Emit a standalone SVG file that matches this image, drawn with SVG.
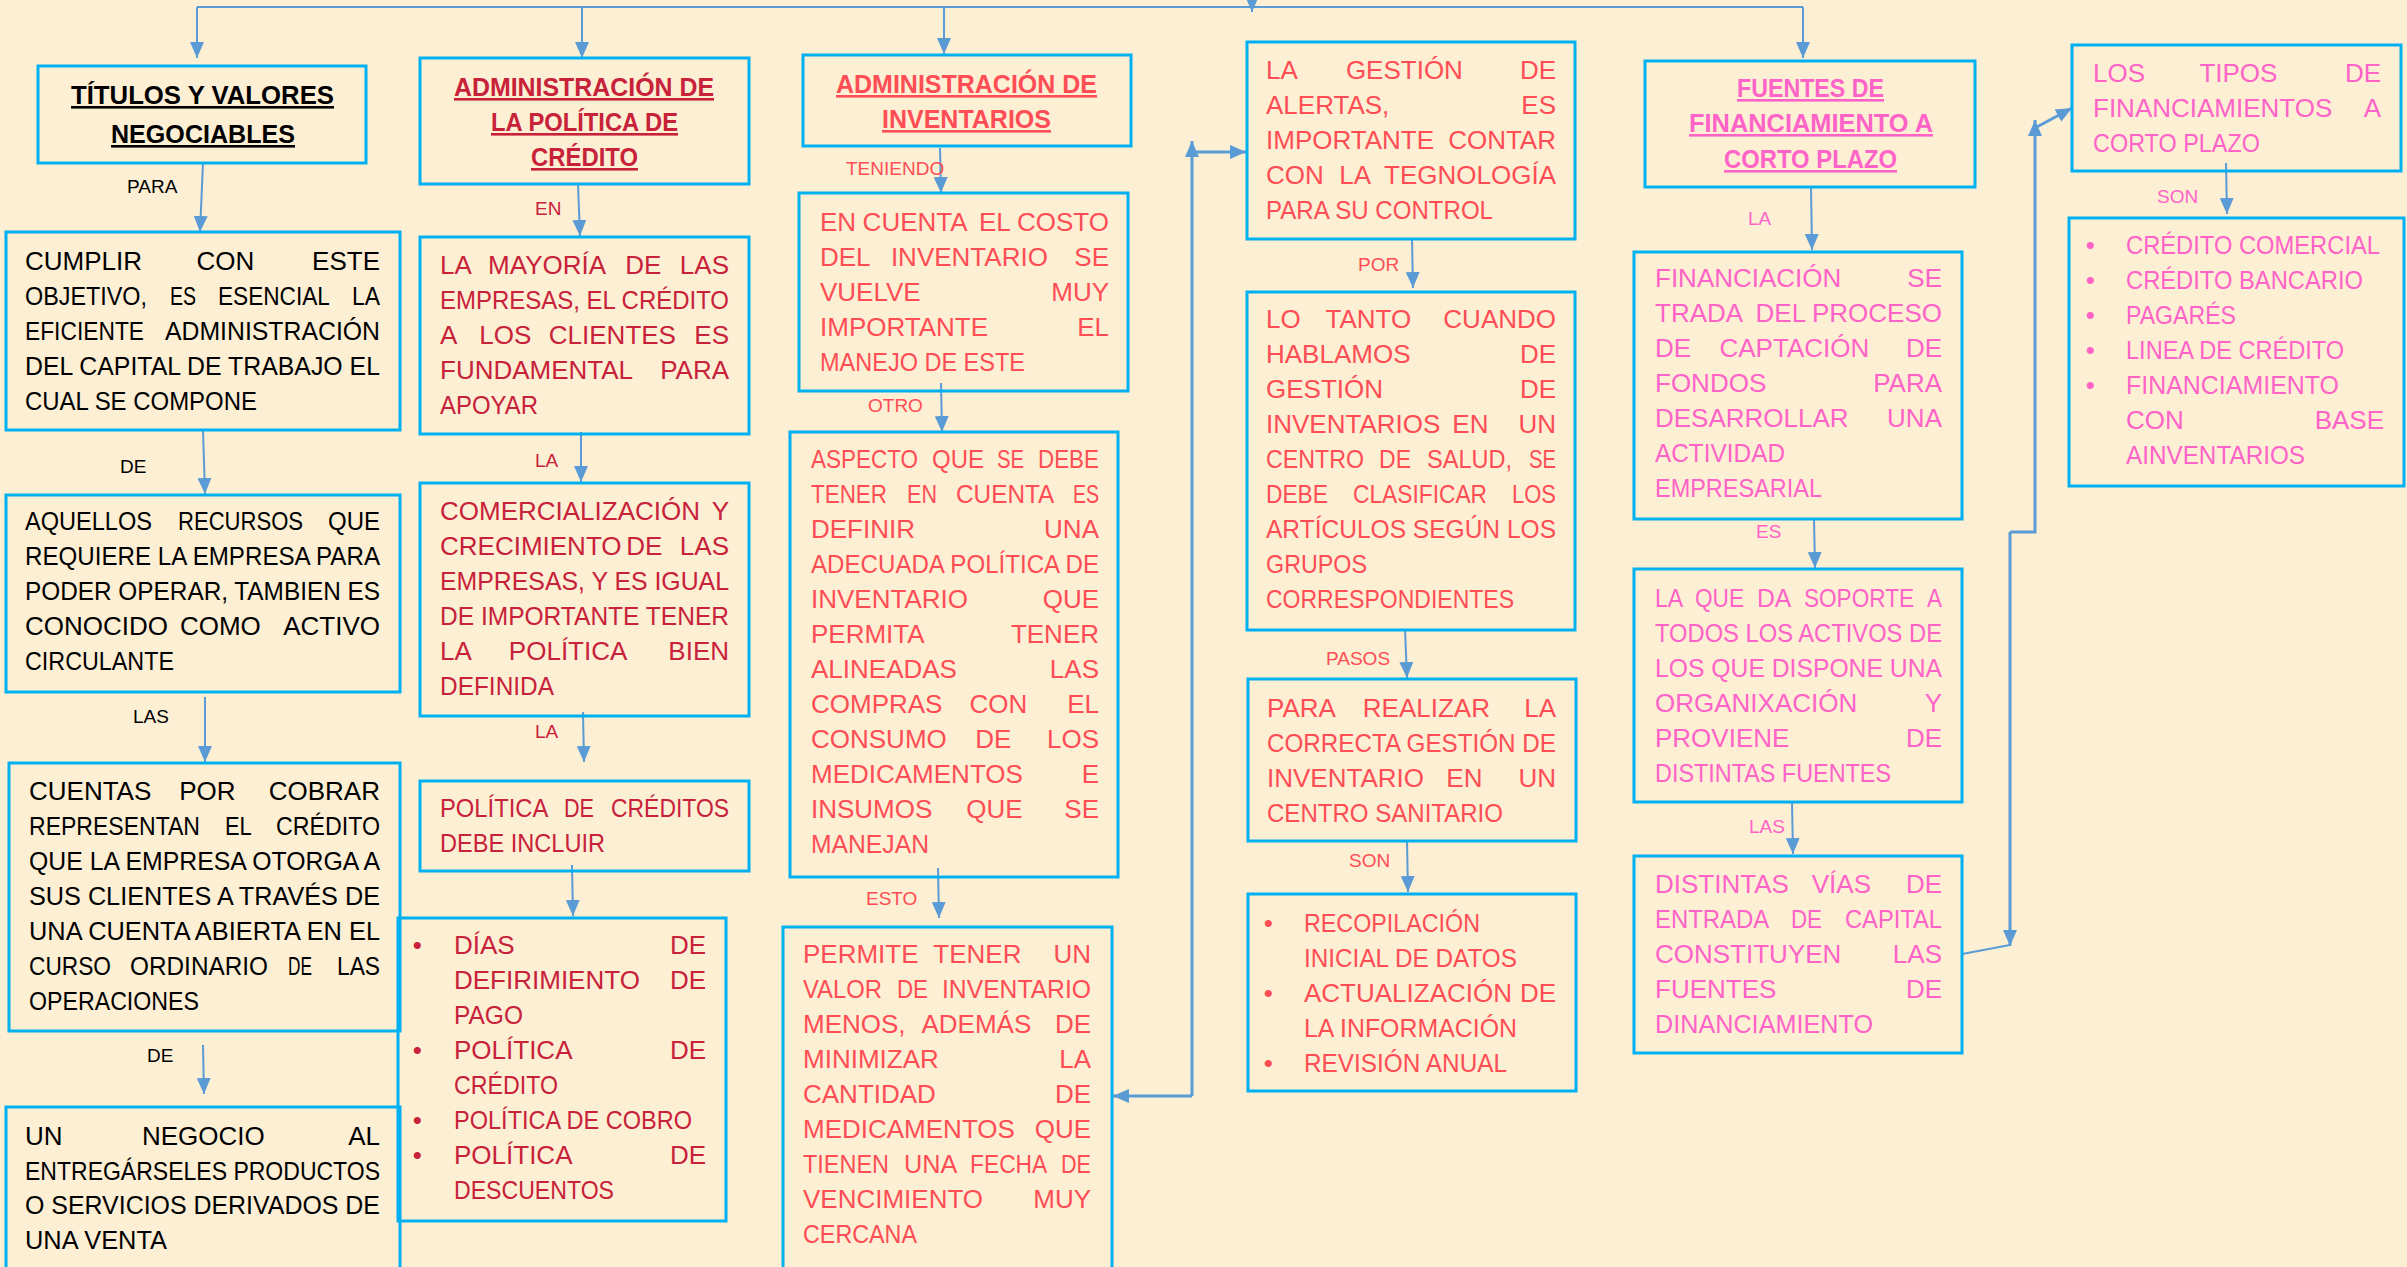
<svg xmlns="http://www.w3.org/2000/svg" width="2407" height="1267" viewBox="0 0 2407 1267">
<style>
.bg{fill:#FCEFD4}
.box{fill:none;stroke:#00B0F0;stroke-width:3}
.c{fill:none;stroke:#5B9BD5;stroke-width:2}
.c3{fill:none;stroke:#5B9BD5;stroke-width:3}
.t{font-family:'Liberation Sans',Arial,sans-serif;font-size:26px}
.lbl{font-family:'Liberation Sans',Arial,sans-serif;font-size:19px}
.ttl{font-weight:bold;text-decoration:underline}
.k{fill:#000000}
.r{fill:#C8213A}
.o{fill:#FF4D55}
.p{fill:#FF63C8}
.m{text-anchor:middle}
.e{text-anchor:end}
</style>
<defs>
<marker id="ah" markerUnits="userSpaceOnUse" markerWidth="16" markerHeight="14" refX="16" refY="7" orient="auto">
<path d="M0,0 L16,7 L0,14 z" fill="#5B9BD5"/>
</marker>
</defs>
<rect class="bg" x="0" y="0" width="2407" height="1267"/>

<g id="connectors">
<path class="c" d="M197,7 H1803"/>
<path class="c" d="M1252,-4 V12" marker-end="url(#ah)"/>
<path class="c" d="M197,7 V58" marker-end="url(#ah)"/>
<path class="c" d="M582,7 V58" marker-end="url(#ah)"/>
<path class="c" d="M944,7 V54" marker-end="url(#ah)"/>
<path class="c" d="M1803,7 V58" marker-end="url(#ah)"/>
<path class="c" d="M203,163 L200,232" marker-end="url(#ah)"/>
<path class="c" d="M203,430 L205,494" marker-end="url(#ah)"/>
<path class="c" d="M205,697 L205,762" marker-end="url(#ah)"/>
<path class="c" d="M203,1045 L204,1094" marker-end="url(#ah)"/>
<path class="c" d="M578,184 L580,236" marker-end="url(#ah)"/>
<path class="c" d="M581,432 L581,482" marker-end="url(#ah)"/>
<path class="c" d="M583,712 L584,762" marker-end="url(#ah)"/>
<path class="c" d="M572,865 L573,916" marker-end="url(#ah)"/>
<path class="c" d="M940,148 L941,193" marker-end="url(#ah)"/>
<path class="c" d="M941,383 L942,432" marker-end="url(#ah)"/>
<path class="c" d="M938,868 L939,918" marker-end="url(#ah)"/>
<path class="c" d="M1412,239 L1413,288" marker-end="url(#ah)"/>
<path class="c" d="M1405,629 L1407,678" marker-end="url(#ah)"/>
<path class="c" d="M1407,841 L1408,892" marker-end="url(#ah)"/>
<path class="c" d="M1811,187 L1812,250" marker-end="url(#ah)"/>
<path class="c" d="M1814,518 L1815,568" marker-end="url(#ah)"/>
<path class="c" d="M1792,802 L1793,854" marker-end="url(#ah)"/>
<path class="c" d="M2226,163 L2227,214" marker-end="url(#ah)"/>
<path class="c3" d="M1192,1096 V141" marker-end="url(#ah)"/>
<path class="c3" d="M1192,152 H1246" marker-end="url(#ah)"/>
<path class="c3" d="M1192,1096 H1113" marker-end="url(#ah)"/>
<path class="c3" d="M2010,532 H2035 V120" marker-end="url(#ah)"/>
<path class="c3" d="M2035,128 L2072,108" marker-end="url(#ah)"/>
<path class="c3" d="M2010,532 V946" marker-end="url(#ah)"/>
<path class="c" d="M1962,954 L2010,945"/>
</g>

<g id="labels">
<text class="lbl k" x="127" y="193">PARA</text>
<text class="lbl k" x="120" y="473">DE</text>
<text class="lbl k" x="133" y="723">LAS</text>
<text class="lbl k" x="147" y="1062">DE</text>
<text class="lbl r" x="535" y="215">EN</text>
<text class="lbl r" x="535" y="467">LA</text>
<text class="lbl r" x="535" y="738">LA</text>
<text class="lbl o" x="846" y="175">TENIENDO</text>
<text class="lbl o" x="868" y="412">OTRO</text>
<text class="lbl o" x="866" y="905">ESTO</text>
<text class="lbl o" x="1358" y="271">POR</text>
<text class="lbl o" x="1326" y="665">PASOS</text>
<text class="lbl o" x="1349" y="867">SON</text>
<text class="lbl p" x="1748" y="225">LA</text>
<text class="lbl p" x="1756" y="538">ES</text>
<text class="lbl p" x="1749" y="833">LAS</text>
<text class="lbl p" x="2157" y="203">SON</text>
</g>

<g id="n-titulos">
<rect class="box" x="38" y="66" width="328" height="97"/>
<text class="t ttl k" x="71" y="104" textLength="263" lengthAdjust="spacingAndGlyphs">TÍTULOS Y VALORES</text>
<text class="t ttl k" x="111" y="143" textLength="184" lengthAdjust="spacingAndGlyphs">NEGOCIABLES</text>
</g>

<g id="n-cumplir">
<rect class="box" x="6" y="232" width="394" height="198"/>
<text class="t k" y="270"><tspan x="25">CUMPLIR</tspan> <tspan x="229" class="m">CON</tspan> <tspan x="380" class="e">ESTE</tspan></text>
<text class="t k" y="305"><tspan x="25" textLength="122" lengthAdjust="spacingAndGlyphs">OBJETIVO,</tspan> <tspan x="170" textLength="26" lengthAdjust="spacingAndGlyphs">ES</tspan> <tspan x="218" textLength="111" lengthAdjust="spacingAndGlyphs">ESENCIAL</tspan> <tspan x="352" textLength="28" lengthAdjust="spacingAndGlyphs">LA</tspan></text>
<text class="t k" y="340"><tspan x="25" textLength="119" lengthAdjust="spacingAndGlyphs">EFICIENTE</tspan> <tspan x="165" textLength="215" lengthAdjust="spacingAndGlyphs">ADMINISTRACIÓN</tspan></text>
<text class="t k" x="25" y="375" textLength="355" lengthAdjust="spacingAndGlyphs">DEL CAPITAL DE TRABAJO EL</text>
<text class="t k" x="25" y="410" textLength="232" lengthAdjust="spacingAndGlyphs">CUAL SE COMPONE</text>
</g>

<g id="n-aquellos">
<rect class="box" x="6" y="495" width="394" height="197"/>
<text class="t k" y="530"><tspan x="25" textLength="127" lengthAdjust="spacingAndGlyphs">AQUELLOS</tspan> <tspan x="178" textLength="125" lengthAdjust="spacingAndGlyphs">RECURSOS</tspan> <tspan x="328" textLength="52" lengthAdjust="spacingAndGlyphs">QUE</tspan></text>
<text class="t k" x="25" y="565" textLength="355" lengthAdjust="spacingAndGlyphs">REQUIERE LA EMPRESA PARA</text>
<text class="t k" x="25" y="600" textLength="355" lengthAdjust="spacingAndGlyphs">PODER OPERAR, TAMBIEN ES</text>
<text class="t k" y="635"><tspan x="25">CONOCIDO</tspan> <tspan x="224" class="m">COMO</tspan> <tspan x="380" class="e">ACTIVO</tspan></text>
<text class="t k" x="25" y="670" textLength="149" lengthAdjust="spacingAndGlyphs">CIRCULANTE</text>
</g>

<g id="n-cuentas">
<rect class="box" x="9" y="763" width="391" height="268"/>
<text class="t k" y="800"><tspan x="29">CUENTAS</tspan> <tspan x="211" class="m">POR</tspan> <tspan x="380" class="e">COBRAR</tspan></text>
<text class="t k" y="835"><tspan x="29" textLength="171" lengthAdjust="spacingAndGlyphs">REPRESENTAN</tspan> <tspan x="225" textLength="26" lengthAdjust="spacingAndGlyphs">EL</tspan> <tspan x="276" textLength="104" lengthAdjust="spacingAndGlyphs">CRÉDITO</tspan></text>
<text class="t k" x="29" y="870" textLength="351" lengthAdjust="spacingAndGlyphs">QUE LA EMPRESA OTORGA A</text>
<text class="t k" x="29" y="905" textLength="351" lengthAdjust="spacingAndGlyphs">SUS CLIENTES A TRAVÉS DE</text>
<text class="t k" x="29" y="940" textLength="351" lengthAdjust="spacingAndGlyphs">UNA CUENTA ABIERTA EN EL</text>
<text class="t k" y="975"><tspan x="29" textLength="82" lengthAdjust="spacingAndGlyphs">CURSO</tspan> <tspan x="130" textLength="138" lengthAdjust="spacingAndGlyphs">ORDINARIO</tspan> <tspan x="288" textLength="24" lengthAdjust="spacingAndGlyphs">DE</tspan> <tspan x="337" textLength="43" lengthAdjust="spacingAndGlyphs">LAS</tspan></text>
<text class="t k" x="29" y="1010" textLength="170" lengthAdjust="spacingAndGlyphs">OPERACIONES</text>
</g>

<g id="n-negocio">
<rect class="box" x="6" y="1107" width="394" height="180"/>
<text class="t k" y="1145"><tspan x="25">UN</tspan> <tspan x="207" class="m">NEGOCIO</tspan> <tspan x="380" class="e">AL</tspan></text>
<text class="t k" x="25" y="1180" textLength="355" lengthAdjust="spacingAndGlyphs">ENTREGÁRSELES PRODUCTOS</text>
<text class="t k" x="25" y="1214" textLength="355" lengthAdjust="spacingAndGlyphs">O SERVICIOS DERIVADOS DE</text>
<text class="t k" x="25" y="1249" textLength="142" lengthAdjust="spacingAndGlyphs">UNA VENTA</text>
</g>

<g id="n-admin-credito">
<rect class="box" x="420" y="58" width="329" height="126"/>
<text class="t ttl r" x="454" y="96" textLength="260" lengthAdjust="spacingAndGlyphs">ADMINISTRACIÓN DE</text>
<text class="t ttl r" x="491" y="131" textLength="187" lengthAdjust="spacingAndGlyphs">LA POLÍTICA DE</text>
<text class="t ttl r" x="531" y="166" textLength="107" lengthAdjust="spacingAndGlyphs">CRÉDITO</text>
</g>

<g id="n-mayoria">
<rect class="box" x="420" y="237" width="329" height="197"/>
<text class="t r" y="274"><tspan x="440">LA</tspan> <tspan x="550" class="m">MAYORÍA</tspan> <tspan x="647" class="m">DE</tspan> <tspan x="729" class="e">LAS</tspan></text>
<text class="t r" x="440" y="309" textLength="289" lengthAdjust="spacingAndGlyphs">EMPRESAS, EL CRÉDITO</text>
<text class="t r" y="344"><tspan x="440">A</tspan> <tspan x="509" class="m">LOS</tspan> <tspan x="616" class="m">CLIENTES</tspan> <tspan x="729" class="e">ES</tspan></text>
<text class="t r" y="379"><tspan x="440">FUNDAMENTAL</tspan> <tspan x="729" class="e">PARA</tspan></text>
<text class="t r" x="440" y="414" textLength="98" lengthAdjust="spacingAndGlyphs">APOYAR</text>
</g>

<g id="n-comercializacion">
<rect class="box" x="420" y="483" width="329" height="233"/>
<text class="t r" y="520"><tspan x="440">COMERCIALIZACIÓN</tspan> <tspan x="729" class="e">Y</tspan></text>
<text class="t r" y="555"><tspan x="440">CRECIMIENTO</tspan> <tspan x="648" class="m">DE</tspan> <tspan x="729" class="e">LAS</tspan></text>
<text class="t r" x="440" y="590" textLength="289" lengthAdjust="spacingAndGlyphs">EMPRESAS, Y ES IGUAL</text>
<text class="t r" x="440" y="625" textLength="289" lengthAdjust="spacingAndGlyphs">DE IMPORTANTE TENER</text>
<text class="t r" y="660"><tspan x="440">LA</tspan> <tspan x="571" class="m">POLÍTICA</tspan> <tspan x="729" class="e">BIEN</tspan></text>
<text class="t r" x="440" y="695" textLength="114" lengthAdjust="spacingAndGlyphs">DEFINIDA</text>
</g>

<g id="n-politica">
<rect class="box" x="420" y="781" width="329" height="90"/>
<text class="t r" y="817"><tspan x="440" textLength="107" lengthAdjust="spacingAndGlyphs">POLÍTICA</tspan> <tspan x="564" textLength="30" lengthAdjust="spacingAndGlyphs">DE</tspan> <tspan x="611" textLength="118" lengthAdjust="spacingAndGlyphs">CRÉDITOS</tspan></text>
<text class="t r" x="440" y="852" textLength="165" lengthAdjust="spacingAndGlyphs">DEBE INCLUIR</text>
</g>

<g id="n-incluir">
<rect class="box" x="398" y="918" width="328" height="303"/>
<text class="t r" y="954"><tspan x="421" class="m">•</tspan> <tspan x="454">DÍAS</tspan> <tspan x="706" class="e">DE</tspan></text>
<text class="t r" y="989"><tspan x="454">DEFIRIMIENTO</tspan> <tspan x="706" class="e">DE</tspan></text>
<text class="t r" x="454" y="1024" textLength="69" lengthAdjust="spacingAndGlyphs">PAGO</text>
<text class="t r" y="1059"><tspan x="421" class="m">•</tspan> <tspan x="454">POLÍTICA</tspan> <tspan x="706" class="e">DE</tspan></text>
<text class="t r" x="454" y="1094" textLength="104" lengthAdjust="spacingAndGlyphs">CRÉDITO</text>
<text class="t r" y="1129"><tspan x="421" class="m">•</tspan> <tspan x="454" textLength="238" lengthAdjust="spacingAndGlyphs">POLÍTICA DE COBRO</tspan></text>
<text class="t r" y="1164"><tspan x="421" class="m">•</tspan> <tspan x="454">POLÍTICA</tspan> <tspan x="706" class="e">DE</tspan></text>
<text class="t r" x="454" y="1199" textLength="160" lengthAdjust="spacingAndGlyphs">DESCUENTOS</text>
</g>

<g id="n-admin-inventarios">
<rect class="box" x="803" y="55" width="328" height="91"/>
<text class="t ttl o" x="836" y="93" textLength="261" lengthAdjust="spacingAndGlyphs">ADMINISTRACIÓN DE</text>
<text class="t ttl o" x="882" y="128" textLength="169" lengthAdjust="spacingAndGlyphs">INVENTARIOS</text>
</g>

<g id="n-costo">
<rect class="box" x="799" y="193" width="329" height="198"/>
<text class="t o" y="231"><tspan x="820">EN</tspan> <tspan x="918" class="m">CUENTA</tspan> <tspan x="998" class="m">EL</tspan> <tspan x="1109" class="e">COSTO</tspan></text>
<text class="t o" y="266"><tspan x="820">DEL</tspan> <tspan x="973" class="m">INVENTARIO</tspan> <tspan x="1109" class="e">SE</tspan></text>
<text class="t o" y="301"><tspan x="820">VUELVE</tspan> <tspan x="1109" class="e">MUY</tspan></text>
<text class="t o" y="336"><tspan x="820">IMPORTANTE</tspan> <tspan x="1109" class="e">EL</tspan></text>
<text class="t o" x="820" y="371" textLength="205" lengthAdjust="spacingAndGlyphs">MANEJO DE ESTE</text>
</g>

<g id="n-aspecto">
<rect class="box" x="790" y="432" width="328" height="445"/>
<text class="t o" y="468"><tspan x="811" textLength="107" lengthAdjust="spacingAndGlyphs">ASPECTO</tspan> <tspan x="932" textLength="52" lengthAdjust="spacingAndGlyphs">QUE</tspan> <tspan x="997" textLength="27" lengthAdjust="spacingAndGlyphs">SE</tspan> <tspan x="1038" textLength="61" lengthAdjust="spacingAndGlyphs">DEBE</tspan></text>
<text class="t o" y="503"><tspan x="811" textLength="76" lengthAdjust="spacingAndGlyphs">TENER</tspan> <tspan x="907" textLength="30" lengthAdjust="spacingAndGlyphs">EN</tspan> <tspan x="956" textLength="97" lengthAdjust="spacingAndGlyphs">CUENTA</tspan> <tspan x="1073" textLength="26" lengthAdjust="spacingAndGlyphs">ES</tspan></text>
<text class="t o" y="538"><tspan x="811">DEFINIR</tspan> <tspan x="1099" class="e">UNA</tspan></text>
<text class="t o" x="811" y="573" textLength="288" lengthAdjust="spacingAndGlyphs">ADECUADA POLÍTICA DE</text>
<text class="t o" y="608"><tspan x="811">INVENTARIO</tspan> <tspan x="1099" class="e">QUE</tspan></text>
<text class="t o" y="643"><tspan x="811">PERMITA</tspan> <tspan x="1099" class="e">TENER</tspan></text>
<text class="t o" y="678"><tspan x="811">ALINEADAS</tspan> <tspan x="1099" class="e">LAS</tspan></text>
<text class="t o" y="713"><tspan x="811">COMPRAS</tspan> <tspan x="1002" class="m">CON</tspan> <tspan x="1099" class="e">EL</tspan></text>
<text class="t o" y="748"><tspan x="811">CONSUMO</tspan> <tspan x="997" class="m">DE</tspan> <tspan x="1099" class="e">LOS</tspan></text>
<text class="t o" y="783"><tspan x="811">MEDICAMENTOS</tspan> <tspan x="1099" class="e">E</tspan></text>
<text class="t o" y="818"><tspan x="811">INSUMOS</tspan> <tspan x="998" class="m">QUE</tspan> <tspan x="1099" class="e">SE</tspan></text>
<text class="t o" x="811" y="853" textLength="118" lengthAdjust="spacingAndGlyphs">MANEJAN</text>
</g>

<g id="n-permite">
<rect class="box" x="783" y="927" width="329" height="345"/>
<text class="t o" y="963"><tspan x="803">PERMITE</tspan> <tspan x="981" class="m">TENER</tspan> <tspan x="1091" class="e">UN</tspan></text>
<text class="t o" y="998"><tspan x="803" textLength="79" lengthAdjust="spacingAndGlyphs">VALOR</tspan> <tspan x="897" textLength="31" lengthAdjust="spacingAndGlyphs">DE</tspan> <tspan x="942" textLength="149" lengthAdjust="spacingAndGlyphs">INVENTARIO</tspan></text>
<text class="t o" y="1033"><tspan x="803">MENOS,</tspan> <tspan x="980" class="m">ADEMÁS</tspan> <tspan x="1091" class="e">DE</tspan></text>
<text class="t o" y="1068"><tspan x="803">MINIMIZAR</tspan> <tspan x="1091" class="e">LA</tspan></text>
<text class="t o" y="1103"><tspan x="803">CANTIDAD</tspan> <tspan x="1091" class="e">DE</tspan></text>
<text class="t o" y="1138"><tspan x="803">MEDICAMENTOS</tspan> <tspan x="1091" class="e">QUE</tspan></text>
<text class="t o" y="1173"><tspan x="803" textLength="86" lengthAdjust="spacingAndGlyphs">TIENEN</tspan> <tspan x="904" textLength="52" lengthAdjust="spacingAndGlyphs">UNA</tspan> <tspan x="970" textLength="76" lengthAdjust="spacingAndGlyphs">FECHA</tspan> <tspan x="1061" textLength="30" lengthAdjust="spacingAndGlyphs">DE</tspan></text>
<text class="t o" y="1208"><tspan x="803">VENCIMIENTO</tspan> <tspan x="1091" class="e">MUY</tspan></text>
<text class="t o" x="803" y="1243" textLength="114" lengthAdjust="spacingAndGlyphs">CERCANA</text>
</g>

<g id="n-alertas">
<rect class="box" x="1247" y="42" width="328" height="197"/>
<text class="t o" y="79"><tspan x="1266">LA</tspan> <tspan x="1408" class="m">GESTIÓN</tspan> <tspan x="1556" class="e">DE</tspan></text>
<text class="t o" y="114"><tspan x="1266">ALERTAS,</tspan> <tspan x="1556" class="e">ES</tspan></text>
<text class="t o" y="149"><tspan x="1266">IMPORTANTE</tspan> <tspan x="1556" class="e">CONTAR</tspan></text>
<text class="t o" y="184"><tspan x="1266">CON</tspan> <tspan x="1358" class="m">LA</tspan> <tspan x="1556" class="e">TEGNOLOGÍA</tspan></text>
<text class="t o" x="1266" y="219" textLength="227" lengthAdjust="spacingAndGlyphs">PARA SU CONTROL</text>
</g>

<g id="n-tanto">
<rect class="box" x="1247" y="292" width="328" height="338"/>
<text class="t o" y="328"><tspan x="1266">LO</tspan> <tspan x="1372" class="m">TANTO</tspan> <tspan x="1556" class="e">CUANDO</tspan></text>
<text class="t o" y="363"><tspan x="1266">HABLAMOS</tspan> <tspan x="1556" class="e">DE</tspan></text>
<text class="t o" y="398"><tspan x="1266">GESTIÓN</tspan> <tspan x="1556" class="e">DE</tspan></text>
<text class="t o" y="433"><tspan x="1266">INVENTARIOS</tspan> <tspan x="1474" class="m">EN</tspan> <tspan x="1556" class="e">UN</tspan></text>
<text class="t o" y="468"><tspan x="1266" textLength="98" lengthAdjust="spacingAndGlyphs">CENTRO</tspan> <tspan x="1379" textLength="32" lengthAdjust="spacingAndGlyphs">DE</tspan> <tspan x="1427" textLength="85" lengthAdjust="spacingAndGlyphs">SALUD,</tspan> <tspan x="1529" textLength="27" lengthAdjust="spacingAndGlyphs">SE</tspan></text>
<text class="t o" y="503"><tspan x="1266" textLength="62" lengthAdjust="spacingAndGlyphs">DEBE</tspan> <tspan x="1353" textLength="134" lengthAdjust="spacingAndGlyphs">CLASIFICAR</tspan> <tspan x="1512" textLength="44" lengthAdjust="spacingAndGlyphs">LOS</tspan></text>
<text class="t o" x="1266" y="538" textLength="290" lengthAdjust="spacingAndGlyphs">ARTÍCULOS SEGÚN LOS</text>
<text class="t o" x="1266" y="573" textLength="101" lengthAdjust="spacingAndGlyphs">GRUPOS</text>
<text class="t o" x="1266" y="608" textLength="248" lengthAdjust="spacingAndGlyphs">CORRESPONDIENTES</text>
</g>

<g id="n-realizar">
<rect class="box" x="1248" y="679" width="328" height="162"/>
<text class="t o" y="717"><tspan x="1267">PARA</tspan> <tspan x="1430" class="m">REALIZAR</tspan> <tspan x="1556" class="e">LA</tspan></text>
<text class="t o" x="1267" y="752" textLength="289" lengthAdjust="spacingAndGlyphs">CORRECTA GESTIÓN DE</text>
<text class="t o" y="787"><tspan x="1267">INVENTARIO</tspan> <tspan x="1468" class="m">EN</tspan> <tspan x="1556" class="e">UN</tspan></text>
<text class="t o" x="1267" y="822" textLength="236" lengthAdjust="spacingAndGlyphs">CENTRO SANITARIO</text>
</g>

<g id="n-pasos">
<rect class="box" x="1248" y="894" width="328" height="197"/>
<text class="t o" y="932"><tspan x="1272" class="m">•</tspan> <tspan x="1304" textLength="176" lengthAdjust="spacingAndGlyphs">RECOPILACIÓN</tspan></text>
<text class="t o" x="1304" y="967" textLength="213" lengthAdjust="spacingAndGlyphs">INICIAL DE DATOS</text>
<text class="t o" y="1002"><tspan x="1272" class="m">•</tspan> <tspan x="1304">ACTUALIZACIÓN</tspan> <tspan x="1556" class="e">DE</tspan></text>
<text class="t o" x="1304" y="1037" textLength="213" lengthAdjust="spacingAndGlyphs">LA INFORMACIÓN</text>
<text class="t o" y="1072"><tspan x="1272" class="m">•</tspan> <tspan x="1304" textLength="203" lengthAdjust="spacingAndGlyphs">REVISIÓN ANUAL</tspan></text>
</g>

<g id="n-fuentes">
<rect class="box" x="1645" y="61" width="330" height="126"/>
<text class="t ttl p" x="1737" y="97" textLength="147" lengthAdjust="spacingAndGlyphs">FUENTES DE</text>
<text class="t ttl p" x="1689" y="132" textLength="244" lengthAdjust="spacingAndGlyphs">FINANCIAMIENTO A</text>
<text class="t ttl p" x="1724" y="168" textLength="173" lengthAdjust="spacingAndGlyphs">CORTO PLAZO</text>
</g>

<g id="n-financiacion">
<rect class="box" x="1634" y="252" width="328" height="267"/>
<text class="t p" y="287"><tspan x="1655">FINANCIACIÓN</tspan> <tspan x="1942" class="e">SE</tspan></text>
<text class="t p" y="322"><tspan x="1655">TRADA</tspan> <tspan x="1784" class="m">DEL</tspan> <tspan x="1942" class="e">PROCESO</tspan></text>
<text class="t p" y="357"><tspan x="1655">DE</tspan> <tspan x="1798" class="m">CAPTACIÓN</tspan> <tspan x="1942" class="e">DE</tspan></text>
<text class="t p" y="392"><tspan x="1655">FONDOS</tspan> <tspan x="1942" class="e">PARA</tspan></text>
<text class="t p" y="427"><tspan x="1655">DESARROLLAR</tspan> <tspan x="1942" class="e">UNA</tspan></text>
<text class="t p" x="1655" y="462" textLength="130" lengthAdjust="spacingAndGlyphs">ACTIVIDAD</text>
<text class="t p" x="1655" y="497" textLength="167" lengthAdjust="spacingAndGlyphs">EMPRESARIAL</text>
</g>

<g id="n-soporte">
<rect class="box" x="1634" y="569" width="328" height="233"/>
<text class="t p" y="607"><tspan x="1655" textLength="27" lengthAdjust="spacingAndGlyphs">LA</tspan> <tspan x="1695" textLength="49" lengthAdjust="spacingAndGlyphs">QUE</tspan> <tspan x="1757" textLength="33" lengthAdjust="spacingAndGlyphs">DA</tspan> <tspan x="1804" textLength="110" lengthAdjust="spacingAndGlyphs">SOPORTE</tspan> <tspan x="1927" textLength="15" lengthAdjust="spacingAndGlyphs">A</tspan></text>
<text class="t p" x="1655" y="642" textLength="287" lengthAdjust="spacingAndGlyphs">TODOS LOS ACTIVOS DE</text>
<text class="t p" x="1655" y="677" textLength="287" lengthAdjust="spacingAndGlyphs">LOS QUE DISPONE UNA</text>
<text class="t p" y="712"><tspan x="1655">ORGANIXACIÓN</tspan> <tspan x="1942" class="e">Y</tspan></text>
<text class="t p" y="747"><tspan x="1655">PROVIENE</tspan> <tspan x="1942" class="e">DE</tspan></text>
<text class="t p" x="1655" y="782" textLength="236" lengthAdjust="spacingAndGlyphs">DISTINTAS FUENTES</text>
</g>

<g id="n-vias">
<rect class="box" x="1634" y="856" width="328" height="197"/>
<text class="t p" y="893"><tspan x="1655">DISTINTAS</tspan> <tspan x="1845" class="m">VÍAS</tspan> <tspan x="1942" class="e">DE</tspan></text>
<text class="t p" y="928"><tspan x="1655" textLength="113" lengthAdjust="spacingAndGlyphs">ENTRADA</tspan> <tspan x="1791" textLength="31" lengthAdjust="spacingAndGlyphs">DE</tspan> <tspan x="1845" textLength="97" lengthAdjust="spacingAndGlyphs">CAPITAL</tspan></text>
<text class="t p" y="963"><tspan x="1655">CONSTITUYEN</tspan> <tspan x="1942" class="e">LAS</tspan></text>
<text class="t p" y="998"><tspan x="1655">FUENTES</tspan> <tspan x="1942" class="e">DE</tspan></text>
<text class="t p" x="1655" y="1033" textLength="218" lengthAdjust="spacingAndGlyphs">DINANCIAMIENTO</text>
</g>

<g id="n-tipos">
<rect class="box" x="2072" y="45" width="329" height="126"/>
<text class="t p" y="82"><tspan x="2093">LOS</tspan> <tspan x="2242" class="m">TIPOS</tspan> <tspan x="2381" class="e">DE</tspan></text>
<text class="t p" y="117"><tspan x="2093">FINANCIAMIENTOS</tspan> <tspan x="2381" class="e">A</tspan></text>
<text class="t p" x="2093" y="152" textLength="167" lengthAdjust="spacingAndGlyphs">CORTO PLAZO</text>
</g>

<g id="n-lista">
<rect class="box" x="2069" y="218" width="335" height="268"/>
<text class="t p" y="254"><tspan x="2094" class="m">•</tspan> <tspan x="2126" textLength="254" lengthAdjust="spacingAndGlyphs">CRÉDITO COMERCIAL</tspan></text>
<text class="t p" y="289"><tspan x="2094" class="m">•</tspan> <tspan x="2126" textLength="237" lengthAdjust="spacingAndGlyphs">CRÉDITO BANCARIO</tspan></text>
<text class="t p" y="324"><tspan x="2094" class="m">•</tspan> <tspan x="2126" textLength="110" lengthAdjust="spacingAndGlyphs">PAGARÉS</tspan></text>
<text class="t p" y="359"><tspan x="2094" class="m">•</tspan> <tspan x="2126" textLength="218" lengthAdjust="spacingAndGlyphs">LINEA DE CRÉDITO</tspan></text>
<text class="t p" y="394"><tspan x="2094" class="m">•</tspan> <tspan x="2126" textLength="213" lengthAdjust="spacingAndGlyphs">FINANCIAMIENTO</tspan></text>
<text class="t p" y="429"><tspan x="2126">CON</tspan> <tspan x="2384" class="e">BASE</tspan></text>
<text class="t p" x="2126" y="464" textLength="179" lengthAdjust="spacingAndGlyphs">AINVENTARIOS</text>
</g>
</svg>
